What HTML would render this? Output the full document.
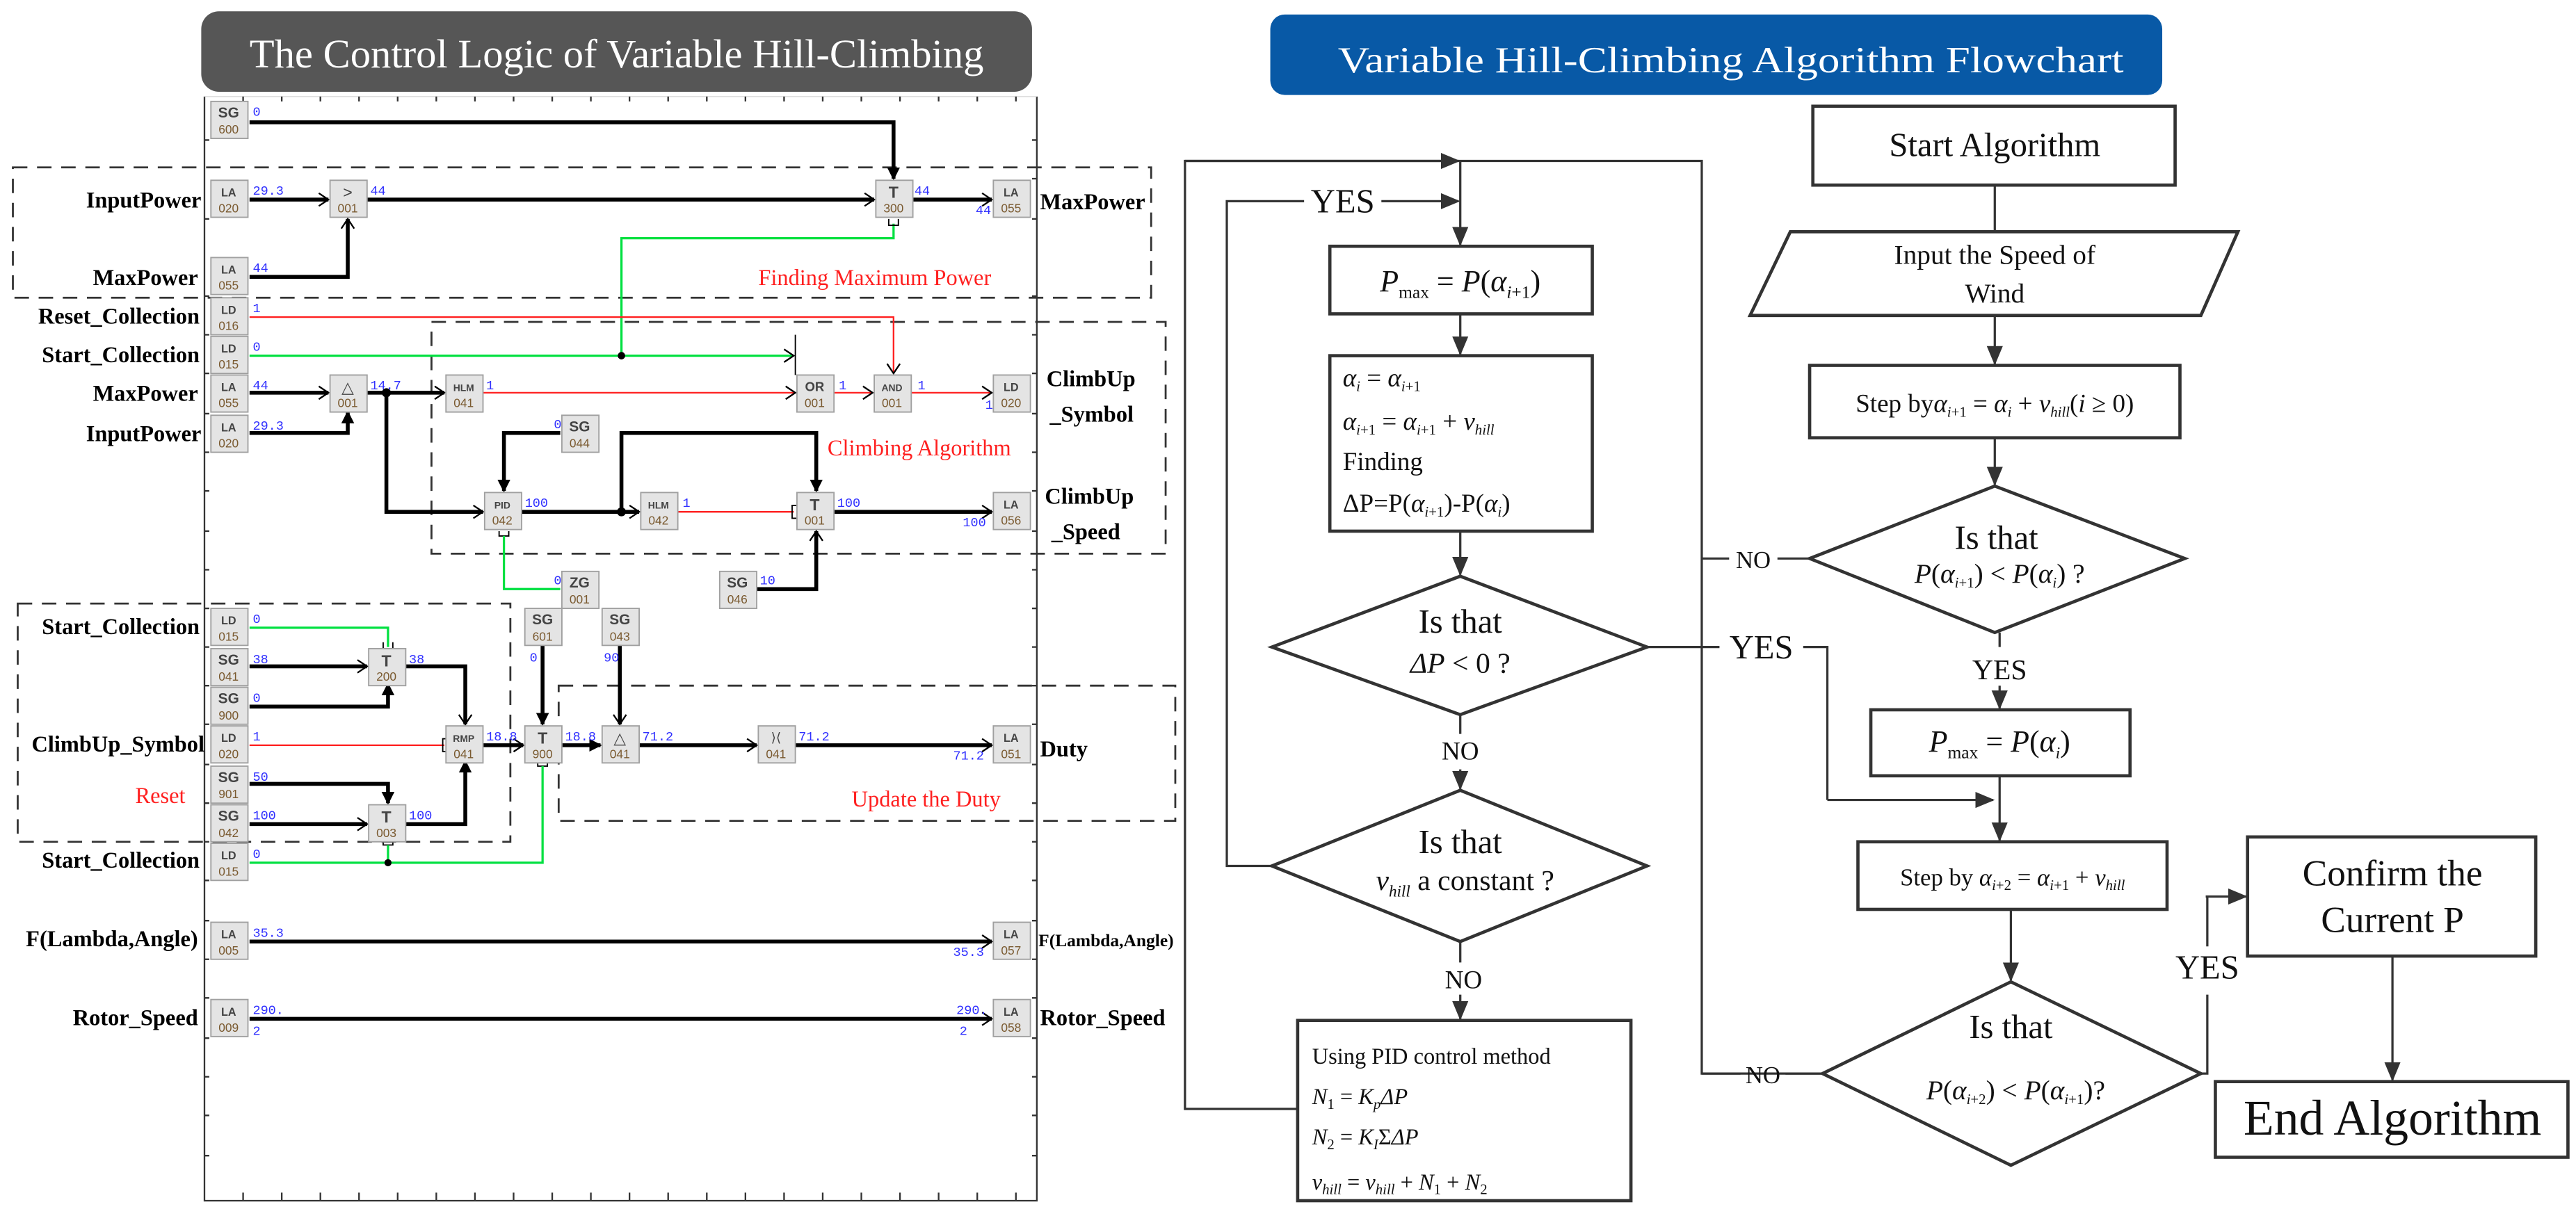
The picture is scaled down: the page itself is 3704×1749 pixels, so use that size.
<!DOCTYPE html>
<html><head><meta charset="utf-8"><style>
html,body{margin:0;padding:0;background:#fff;}
svg{display:block;}
.bk rect{fill:#e4e4e4;stroke:#a0a0a0;stroke-width:0.8;}
.bt{font-family:"Liberation Sans",sans-serif;font-size:7px;font-weight:bold;fill:#444;text-anchor:middle;}
.bb{font-family:"Liberation Sans",sans-serif;font-size:7.5px;fill:#7a5a30;text-anchor:middle;}
.v{font-family:"Liberation Mono",monospace;font-size:8px;fill:#3030ff;}
.lb{font-family:"Liberation Serif",serif;font-size:14px;font-weight:bold;fill:#000;}
.rd{font-family:"Liberation Serif",serif;font-size:14px;fill:#ff2020;}
.k{stroke:#000;stroke-width:2.4;fill:none;}
.r{stroke:#ff2020;stroke-width:1;fill:none;}
.g{stroke:#00e040;stroke-width:1.4;fill:none;}
.fl{stroke:#333;stroke-width:1.4;fill:none;}
.bx{stroke:#333;stroke-width:2;fill:#fff;}
.ft{font-family:"Liberation Serif",serif;fill:#111;}
.it{font-style:italic;}
</style></head><body>
<svg width="3704" height="1749" viewBox="0 0 1600 755.5" xmlns="http://www.w3.org/2000/svg">
<defs>
<marker id="a" markerUnits="userSpaceOnUse" markerWidth="8" markerHeight="10" refX="7" refY="5" orient="auto"><path d="M1,1 L7,5 L1,9" fill="none" stroke="#000" stroke-width="1"/></marker>
<marker id="af" markerUnits="userSpaceOnUse" markerWidth="8" markerHeight="8" refX="7" refY="4" orient="auto"><path d="M0,0 L8,4 L0,8 Z" fill="#000"/></marker>
<marker id="f" markerUnits="userSpaceOnUse" markerWidth="12" markerHeight="10" refX="11" refY="5" orient="auto"><path d="M0,0 L12,5 L0,10 Z" fill="#333"/></marker>
</defs>

<!-- LEFT PANEL -->
<rect x="125" y="7" width="516" height="50" rx="11" fill="#565656"/>
<text x="383" y="42" font-family="Liberation Serif,serif" font-size="25" fill="#fff" text-anchor="middle" textLength="456" lengthAdjust="spacingAndGlyphs">The Control Logic of Variable Hill-Climbing</text>

<!-- frame -->
<path d="M127,60 V746 H644 V60" fill="none" stroke="#333" stroke-width="1"/>
<path d="M127,60 H644" fill="none" stroke="#ccc" stroke-width="0.5"/>
<g stroke="#333" stroke-width="1">
<path d="M151,60v3M175,60v3M199,60v3M223,60v3M247,60v3M271,60v3M295,60v3M319,60v3M343,60v3M367,60v3M391,60v3M415,60v3M439,60v3M463,60v3M487,60v3M511,60v3M535,60v3M559,60v3M583,60v3M607,60v3M631,60v3"/>
<path d="M151,746v-5M175,746v-5M199,746v-5M223,746v-5M247,746v-5M271,746v-5M295,746v-5M319,746v-5M343,746v-5M367,746v-5M391,746v-5M415,746v-5M439,746v-5M463,746v-5M487,746v-5M511,746v-5M535,746v-5M559,746v-5M583,746v-5M607,746v-5M631,746v-5"/>
<path d="M127,87h3M127,136h3M127,184h3M127,208h3M127,232h3M127,257h3M127,281h3M127,305h3M127,330h3M127,354h3M127,378h3M127,402h3M127,426h3M127,450h3M127,475h3M127,499h3M127,523h3M127,547h3M127,572h3M127,596h3M127,620h3M127,645h3M127,669h3M127,693h3M127,718h3"/>
<path d="M644,87h-3M644,111h-3M644,136h-3M644,184h-3M644,208h-3M644,232h-3M644,257h-3M644,281h-3M644,305h-3M644,330h-3M644,354h-3M644,378h-3M644,402h-3M644,426h-3M644,450h-3M644,475h-3M644,499h-3M644,523h-3M644,547h-3M644,572h-3M644,596h-3M644,620h-3M644,645h-3M644,669h-3M644,693h-3M644,718h-3"/>
</g>

<!-- dashed groups -->
<g fill="none" stroke="#333" stroke-width="1.2" stroke-dasharray="9,6">
<rect x="8" y="104" width="707" height="81"/>
<rect x="268" y="200" width="456" height="144"/>
<rect x="11" y="375" width="306" height="148"/>
<rect x="347" y="426" width="383" height="84"/>
</g>

<text class="rd" x="471" y="177">Finding Maximum Power</text>
<text class="rd" x="514" y="283">Climbing Algorithm</text>
<text class="rd" x="84" y="499">Reset</text>
<text class="rd" x="529" y="501">Update the Duty</text>

<!-- left labels -->
<g class="lb" text-anchor="end">
<text x="125" y="129">InputPower</text>
<text x="123" y="177">MaxPower</text>
<text x="124" y="201">Reset_Collection</text>
<text x="124" y="225">Start_Collection</text>
<text x="123" y="249">MaxPower</text>
<text x="125" y="274">InputPower</text>
<text x="124" y="394">Start_Collection</text>
<text x="127" y="467">ClimbUp_Symbol</text>
<text x="124" y="539">Start_Collection</text>
<text x="123" y="588">F(Lambda,Angle)</text>
<text x="123" y="637">Rotor_Speed</text>
</g>
<g class="lb">
<text x="646" y="130">MaxPower</text>
<text x="650" y="240">ClimbUp</text>
<text x="652" y="262">_Symbol</text>
<text x="649" y="313">ClimbUp</text>
<text x="653" y="335">_Speed</text>
<text x="646" y="470">Duty</text>
<text x="645" y="588" font-size="11">F(Lambda,Angle)</text>
<text x="646" y="637">Rotor_Speed</text>
</g>

<!-- wires -->
<path class="k" d="M155,76 H555 V111" marker-end="url(#af)"/>
<path class="k" d="M155,124 H204" marker-end="url(#a)"/>
<path class="k" d="M228,124 H543" marker-end="url(#a)"/>
<path class="k" d="M566,124 H616" marker-end="url(#a)"/>
<path class="k" d="M155,172 H216 V136" marker-end="url(#a)"/>
<path class="g" d="M555,139 V148 H386 V221"/>
<path d="M552,136 v4 h6 v-4" fill="none" stroke="#000" stroke-width="0.8"/>
<path class="r" d="M155,197 H555 V232" marker-end="url(#a)"/>
<path class="g" d="M155,221 H493" marker-end="url(#a)"/>
<path d="M494,208 V233" stroke="#000" stroke-width="0.8"/>
<circle cx="386" cy="221" r="2.3" fill="#000"/>
<path class="k" d="M155,244 H204" marker-end="url(#a)"/>
<path class="k" d="M155,269 H216 V256" marker-end="url(#af)"/>
<path class="k" d="M228,244 H276" marker-end="url(#a)"/>
<circle cx="240" cy="244" r="2.8" fill="#000"/>
<path class="k" d="M240,244 V318 H300" marker-end="url(#a)"/>
<path class="r" d="M300,244 H494" marker-end="url(#a)"/>
<path class="r" d="M518,244 H542" marker-end="url(#a)"/>
<path class="r" d="M566,244 H616" marker-end="url(#a)"/>
<path class="k" d="M348,269 H313 V305" marker-end="url(#af)"/>
<path class="k" d="M324,318 H397" marker-end="url(#a)"/>
<circle cx="386" cy="318" r="2.8" fill="#000"/>
<path class="k" d="M386,318 V269 H507 V305" marker-end="url(#af)"/>
<path class="r" d="M421,318 H493"/>
<path d="M495,314 h-3 v8 h3" fill="none" stroke="#000" stroke-width="0.8"/>
<path class="k" d="M518,318 H616" marker-end="url(#a)"/>
<path class="k" d="M469,366 H507 V330" marker-end="url(#a)"/>
<path d="M310,330 v3 h6 v-3" fill="none" stroke="#000" stroke-width="0.8"/>
<path class="g" d="M313,333 V366 H348"/>

<path class="g" d="M155,390 H241 V402"/>
<path d="M238,399 v4 h6 v-4" fill="none" stroke="#000" stroke-width="0.8"/>
<path class="k" d="M155,414 H228" marker-end="url(#a)"/>
<path class="k" d="M155,439 H241 V425" marker-end="url(#af)"/>
<path class="k" d="M252,414 H289 V450" marker-end="url(#a)"/>
<path class="r" d="M155,463 H276"/>
<path d="M278,459 h-3 v8 h3" fill="none" stroke="#000" stroke-width="0.8"/>
<path class="k" d="M155,487 H241 V499" marker-end="url(#af)"/>
<path class="k" d="M155,512 H228" marker-end="url(#a)"/>
<path class="k" d="M252,512 H289 V473" marker-end="url(#af)"/>
<path class="k" d="M300,463 H325" marker-end="url(#a)"/>
<path class="k" d="M337,400 V450" marker-end="url(#af)"/>
<path class="k" d="M385,400 V450" marker-end="url(#a)"/>
<path class="k" d="M348,463 H373" marker-end="url(#af)"/>
<path class="k" d="M397,463 H470" marker-end="url(#a)"/>
<path class="k" d="M494,463 H616" marker-end="url(#a)"/>
<path d="M238,522 v3 h6 v-3" fill="none" stroke="#000" stroke-width="0.8"/>
<path class="g" d="M241,525 V536"/>
<path d="M334,473 v3 h6 v-3" fill="none" stroke="#000" stroke-width="0.8"/>
<path class="g" d="M155,536 H337 V476"/>
<circle cx="241" cy="536" r="2.2" fill="#000"/>
<path class="k" d="M155,585 H616" marker-end="url(#a)"/>
<path class="k" d="M155,633 H616" marker-end="url(#a)"/>

<!-- blocks -->
<g class="bk">
<rect x="131" y="63" width="23" height="23"/><rect x="131" y="112" width="23" height="23"/><rect x="131" y="160" width="23" height="23"/>
<rect x="131" y="185" width="23" height="23"/><rect x="131" y="209" width="23" height="23"/><rect x="131" y="233" width="23" height="23"/>
<rect x="131" y="258" width="23" height="23"/><rect x="131" y="378" width="23" height="23"/><rect x="131" y="403" width="23" height="23"/>
<rect x="131" y="427" width="23" height="23"/><rect x="131" y="451" width="23" height="23"/><rect x="131" y="476" width="23" height="23"/>
<rect x="131" y="500" width="23" height="23"/><rect x="131" y="524" width="23" height="23"/><rect x="131" y="573" width="23" height="23"/>
<rect x="131" y="621" width="23" height="23"/>
<rect x="617" y="112" width="23" height="23"/><rect x="617" y="233" width="23" height="23"/><rect x="617" y="306" width="23" height="23"/>
<rect x="617" y="451" width="23" height="23"/><rect x="617" y="573" width="23" height="23"/><rect x="617" y="621" width="23" height="23"/>
<rect x="205" y="112" width="23" height="23"/><rect x="544" y="112" width="23" height="23"/><rect x="205" y="233" width="23" height="23"/>
<rect x="277" y="233" width="23" height="23"/><rect x="495" y="233" width="23" height="23"/><rect x="543" y="233" width="23" height="23"/>
<rect x="349" y="258" width="23" height="23"/><rect x="301" y="306" width="23" height="23"/><rect x="398" y="306" width="23" height="23"/>
<rect x="495" y="306" width="23" height="23"/><rect x="349" y="355" width="23" height="23"/><rect x="447" y="355" width="23" height="23"/>
<rect x="326" y="378" width="23" height="23"/><rect x="374" y="378" width="23" height="23"/><rect x="229" y="403" width="23" height="23"/>
<rect x="277" y="451" width="23" height="23"/><rect x="326" y="451" width="23" height="23"/><rect x="374" y="451" width="23" height="23"/>
<rect x="471" y="451" width="23" height="23"/><rect x="229" y="500" width="23" height="23"/>
</g>
<g class="bt">
<text x="142" y="73" font-size="9">SG</text><text x="142" y="122">LA</text><text x="142" y="170">LA</text>
<text x="142" y="195">LD</text><text x="142" y="219">LD</text><text x="142" y="243">LA</text>
<text x="142" y="268">LA</text><text x="142" y="388">LD</text><text x="142" y="413" font-size="9">SG</text>
<text x="142" y="437" font-size="9">SG</text><text x="142" y="461">LD</text><text x="142" y="486" font-size="9">SG</text>
<text x="142" y="510" font-size="9">SG</text><text x="142" y="534">LD</text><text x="142" y="583">LA</text>
<text x="142" y="631">LA</text>
<text x="628" y="122">LA</text><text x="628" y="243">LD</text><text x="628" y="316">LA</text>
<text x="628" y="461">LA</text><text x="628" y="583">LA</text><text x="628" y="631">LA</text>
<text x="216" y="123" font-size="10" font-weight="normal">&gt;</text><text x="555" y="123" font-size="10">T</text><text x="216" y="244" font-size="10" font-weight="normal">△</text>
<text x="288" y="243" font-size="6">HLM</text><text x="506" y="243" font-size="8">OR</text><text x="554" y="243" font-size="6">AND</text>
<text x="360" y="268" font-size="9">SG</text><text x="312" y="316" font-size="6">PID</text><text x="409" y="316" font-size="6">HLM</text>
<text x="506" y="317" font-size="10">T</text><text x="360" y="365" font-size="9">ZG</text><text x="458" y="365" font-size="9">SG</text>
<text x="337" y="388" font-size="9">SG</text><text x="385" y="388" font-size="9">SG</text><text x="240" y="414" font-size="10">T</text>
<text x="288" y="461" font-size="6">RMP</text><text x="337" y="462" font-size="10">T</text><text x="385" y="462" font-size="10" font-weight="normal">△</text>
<text x="482" y="461" font-size="8" font-weight="normal">⟩⟨</text><text x="240" y="511" font-size="10">T</text>
</g>
<g class="bb">
<text x="142" y="83">600</text><text x="142" y="132">020</text><text x="142" y="180">055</text>
<text x="142" y="205">016</text><text x="142" y="229">015</text><text x="142" y="253">055</text>
<text x="142" y="278">020</text><text x="142" y="398">015</text><text x="142" y="423">041</text>
<text x="142" y="447">900</text><text x="142" y="471">020</text><text x="142" y="496">901</text>
<text x="142" y="520">042</text><text x="142" y="544">015</text><text x="142" y="593">005</text>
<text x="142" y="641">009</text>
<text x="628" y="132">055</text><text x="628" y="253">020</text><text x="628" y="326">056</text>
<text x="628" y="471">051</text><text x="628" y="593">057</text><text x="628" y="641">058</text>
<text x="216" y="132">001</text><text x="555" y="132">300</text><text x="216" y="253">001</text>
<text x="288" y="253">041</text><text x="506" y="253">001</text><text x="554" y="253">001</text>
<text x="360" y="278">044</text><text x="312" y="326">042</text><text x="409" y="326">042</text>
<text x="506" y="326">001</text><text x="360" y="375">001</text><text x="458" y="375">046</text>
<text x="337" y="398">601</text><text x="385" y="398">043</text><text x="240" y="423">200</text>
<text x="288" y="471">041</text><text x="337" y="471">900</text><text x="385" y="471">041</text>
<text x="482" y="471">041</text><text x="240" y="520">003</text>
</g>
<!-- values -->
<g class="v">
<text x="157" y="72">0</text><text x="157" y="121">29.3</text><text x="157" y="169">44</text>
<text x="157" y="194">1</text><text x="157" y="218">0</text><text x="157" y="242">44</text>
<text x="157" y="267">29.3</text><text x="157" y="387">0</text><text x="157" y="412">38</text>
<text x="157" y="436">0</text><text x="157" y="460">1</text><text x="157" y="485">50</text>
<text x="157" y="509">100</text><text x="157" y="533">0</text><text x="157" y="582">35.3</text>
<text x="157" y="630">290.</text><text x="157" y="643">2</text>
<text x="230" y="121">44</text><text x="568" y="121">44</text><text x="606" y="133">44</text>
<text x="230" y="242">14.7</text><text x="302" y="242">1</text><text x="521" y="242">1</text>
<text x="570" y="242">1</text><text x="612" y="254">1</text><text x="344" y="266">0</text>
<text x="326" y="315">100</text><text x="424" y="315">1</text><text x="520" y="315">100</text>
<text x="598" y="327">100</text><text x="344" y="363">0</text><text x="472" y="363">10</text>
<text x="329" y="411">0</text><text x="375" y="411">90</text><text x="254" y="412">38</text>
<text x="302" y="460">18.8</text><text x="351" y="460">18.8</text><text x="399" y="460">71.2</text>
<text x="496" y="460">71.2</text><text x="592" y="472">71.2</text><text x="254" y="509">100</text>
<text x="592" y="594">35.3</text><text x="594" y="630">290.</text><text x="596" y="643">2</text>
</g>

<!-- RIGHT FLOWCHART -->
<rect x="789" y="9" width="554" height="50" rx="9" fill="#0859a6"/>
<text x="1075" y="45" font-family="Liberation Serif,serif" font-size="23" fill="#fff" text-anchor="middle" textLength="488" lengthAdjust="spacingAndGlyphs">Variable Hill-Climbing Algorithm Flowchart</text>

<!-- outer loops -->
<path class="fl" d="M806,689 H736 V100 H1057 V667 H1131"/>
<path class="fl" d="M736,100 H906" marker-end="url(#f)"/>
<path class="fl" d="M790,538 H762 V125 H810"/>
<path class="fl" d="M858,125 H906" marker-end="url(#f)"/>
<text class="ft" x="834" y="132" font-size="21" text-anchor="middle">YES</text>
<path class="fl" d="M907,100 V152" marker-end="url(#f)"/>
<path class="fl" d="M1057,347 H1074 M1104,347 H1124"/>
<text class="ft" x="1089" y="353" font-size="15" text-anchor="middle">NO</text>
<path class="fl" d="M1057,667 H1081 M1109,667 H1132"/>
<text class="ft" x="1095" y="673" font-size="15" text-anchor="middle">NO</text>

<!-- main column -->
<rect class="bx" x="826" y="153" width="163" height="42"/>
<text class="ft" x="907" y="181" font-size="19" text-anchor="middle"><tspan class="it">P</tspan><tspan font-size="11" dy="4">max</tspan><tspan dy="-4"> = </tspan><tspan class="it">P</tspan>(<tspan class="it">α</tspan><tspan font-size="11" dy="4" class="it">i</tspan><tspan font-size="11">+1</tspan><tspan dy="-4">)</tspan></text>
<path class="fl" d="M907,195 V220" marker-end="url(#f)"/>
<rect class="bx" x="826" y="221" width="163" height="109"/>
<g class="ft" font-size="16">
<text x="834" y="240"><tspan class="it">α</tspan><tspan font-size="9" dy="3" class="it">i</tspan><tspan dy="-3"> = </tspan><tspan class="it">α</tspan><tspan font-size="9" dy="3"><tspan class="it">i</tspan>+1</tspan></text>
<text x="834" y="267"><tspan class="it">α</tspan><tspan font-size="9" dy="3"><tspan class="it">i</tspan>+1</tspan><tspan dy="-3"> = </tspan><tspan class="it">α</tspan><tspan font-size="9" dy="3"><tspan class="it">i</tspan>+1</tspan><tspan dy="-3"> + </tspan><tspan class="it">v</tspan><tspan font-size="9" dy="3" class="it">hill</tspan></text>
<text x="834" y="292">Finding</text>
<text x="834" y="318">ΔP=P(<tspan class="it">α</tspan><tspan font-size="9" dy="3"><tspan class="it">i</tspan>+1</tspan><tspan dy="-3">)-P(</tspan><tspan class="it">α</tspan><tspan font-size="9" dy="3" class="it">i</tspan><tspan dy="-3">)</tspan></text>
</g>
<path class="fl" d="M907,330 V357" marker-end="url(#f)"/>
<polygon class="bx" points="907,358 1023,402 907,444 790,402"/>
<text class="ft" x="907" y="393" font-size="21" text-anchor="middle">Is that</text>
<text class="ft" x="907" y="418" font-size="18" text-anchor="middle"><tspan class="it">ΔP</tspan> &lt; 0 ?</text>
<path class="fl" d="M1023,402 H1068 M1120,402 H1135 V497"/>
<path class="fl" d="M1135,497 H1238" marker-end="url(#f)"/>
<text class="ft" x="1094" y="409" font-size="21" text-anchor="middle">YES</text>
<path class="fl" d="M907,444 V456 M907,478 V490" marker-end="url(#f)"/>
<text class="ft" x="907" y="472" font-size="16" text-anchor="middle">NO</text>
<polygon class="bx" points="907,491 1023,538 907,585 790,538"/>
<text class="ft" x="907" y="530" font-size="21" text-anchor="middle">Is that</text>
<text class="ft" x="910" y="553" font-size="18" text-anchor="middle"><tspan class="it">v</tspan><tspan font-size="10" dy="4" class="it">hill</tspan><tspan dy="-4"> a constant ?</tspan></text>
<path class="fl" d="M907,585 V598 M907,618 V633" marker-end="url(#f)"/>
<text class="ft" x="909" y="614" font-size="16" text-anchor="middle">NO</text>
<rect class="bx" x="806" y="634" width="207" height="112"/>
<g class="ft" font-size="14">
<text x="815" y="661">Using PID control method</text>
<text x="815" y="686"><tspan class="it">N</tspan><tspan font-size="9" dy="3">1</tspan><tspan dy="-3"> = </tspan><tspan class="it">K</tspan><tspan font-size="9" dy="3" class="it">p</tspan><tspan dy="-3" class="it">ΔP</tspan></text>
<text x="815" y="711"><tspan class="it">N</tspan><tspan font-size="9" dy="3">2</tspan><tspan dy="-3"> = </tspan><tspan class="it">K</tspan><tspan font-size="9" dy="3" class="it">I</tspan><tspan dy="-3">Σ</tspan><tspan class="it">ΔP</tspan></text>
<text x="815" y="739"><tspan class="it">v</tspan><tspan font-size="9" dy="3" class="it">hill</tspan><tspan dy="-3"> = </tspan><tspan class="it">v</tspan><tspan font-size="9" dy="3" class="it">hill</tspan><tspan dy="-3"> + </tspan><tspan class="it">N</tspan><tspan font-size="9" dy="3">1</tspan><tspan dy="-3"> + </tspan><tspan class="it">N</tspan><tspan font-size="9" dy="3">2</tspan></text>
</g>

<!-- right column -->
<rect class="bx" x="1126" y="66" width="225" height="49"/>
<text class="ft" x="1239" y="97" font-size="21" text-anchor="middle">Start Algorithm</text>
<path class="fl" d="M1239,115 V144"/>
<polygon class="bx" points="1112,144 1390,144 1367,196 1087,196"/>
<text class="ft" x="1239" y="164" font-size="17" text-anchor="middle">Input the Speed of</text>
<text class="ft" x="1239" y="188" font-size="17" text-anchor="middle">Wind</text>
<path class="fl" d="M1239,196 V226" marker-end="url(#f)"/>
<rect class="bx" x="1124" y="227" width="230" height="45"/>
<text class="ft" x="1239" y="256" font-size="16" text-anchor="middle">Step by<tspan class="it">α</tspan><tspan font-size="9" dy="3"><tspan class="it">i</tspan>+1</tspan><tspan dy="-3"> = </tspan><tspan class="it">α</tspan><tspan font-size="9" dy="3" class="it">i</tspan><tspan dy="-3"> + </tspan><tspan class="it">v</tspan><tspan font-size="9" dy="3" class="it">hill</tspan><tspan dy="-3">(</tspan><tspan class="it">i</tspan> ≥ 0)</text>
<path class="fl" d="M1239,272 V301" marker-end="url(#f)"/>
<polygon class="bx" points="1239,302 1357,347 1239,393 1124,347"/>
<text class="ft" x="1240" y="341" font-size="21" text-anchor="middle">Is that</text>
<text class="ft" x="1242" y="362" font-size="17" text-anchor="middle"><tspan class="it">P</tspan>(<tspan class="it">α</tspan><tspan font-size="9" dy="3"><tspan class="it">i</tspan>+1</tspan><tspan dy="-3">) &lt; </tspan><tspan class="it">P</tspan>(<tspan class="it">α</tspan><tspan font-size="9" dy="3" class="it">i</tspan><tspan dy="-3">) ?</tspan></text>
<path class="fl" d="M1242,393 V402 M1242,426 V440" marker-end="url(#f)"/>
<text class="ft" x="1242" y="422" font-size="18" text-anchor="middle">YES</text>
<rect class="bx" x="1162" y="441" width="161" height="41"/>
<text class="ft" x="1242" y="467" font-size="19" text-anchor="middle"><tspan class="it">P</tspan><tspan font-size="11" dy="4">max</tspan><tspan dy="-4"> = </tspan><tspan class="it">P</tspan>(<tspan class="it">α</tspan><tspan font-size="10" dy="4" class="it">i</tspan><tspan dy="-4">)</tspan></text>
<path class="fl" d="M1242,482 V522" marker-end="url(#f)"/>
<rect class="bx" x="1154" y="523" width="192" height="42"/>
<text class="ft" x="1250" y="550" font-size="15" text-anchor="middle">Step by <tspan class="it">α</tspan><tspan font-size="9" dy="3"><tspan class="it">i</tspan>+2</tspan><tspan dy="-3"> = </tspan><tspan class="it">α</tspan><tspan font-size="9" dy="3"><tspan class="it">i</tspan>+1</tspan><tspan dy="-3"> + </tspan><tspan class="it">v</tspan><tspan font-size="9" dy="3" class="it">hill</tspan></text>
<path class="fl" d="M1249,565 V609" marker-end="url(#f)"/>
<polygon class="bx" points="1249,610 1367,667 1249,724 1132,667"/>
<text class="ft" x="1249" y="645" font-size="21" text-anchor="middle">Is that</text>
<text class="ft" x="1252" y="683" font-size="17" text-anchor="middle"><tspan class="it">P</tspan>(<tspan class="it">α</tspan><tspan font-size="9" dy="3"><tspan class="it">i</tspan>+2</tspan><tspan dy="-3">) &lt; </tspan><tspan class="it">P</tspan>(<tspan class="it">α</tspan><tspan font-size="9" dy="3"><tspan class="it">i</tspan>+1</tspan><tspan dy="-3">)?</tspan></text>
<path class="fl" d="M1367,667 H1371 V618 M1371,588 V557"/>
<path class="fl" d="M1370,557 H1395" marker-end="url(#f)"/>
<text class="ft" x="1371" y="608" font-size="21" text-anchor="middle">YES</text>
<rect class="bx" x="1396" y="520" width="179" height="74"/>
<text class="ft" x="1486" y="550" font-size="23" text-anchor="middle">Confirm the</text>
<text class="ft" x="1486" y="579" font-size="23" text-anchor="middle">Current P</text>
<path class="fl" d="M1486,594 V671" marker-end="url(#f)"/>
<rect class="bx" x="1376" y="672" width="219" height="47"/>
<text class="ft" x="1486" y="705" font-size="31" text-anchor="middle">End Algorithm</text>
</svg>
</body></html>
